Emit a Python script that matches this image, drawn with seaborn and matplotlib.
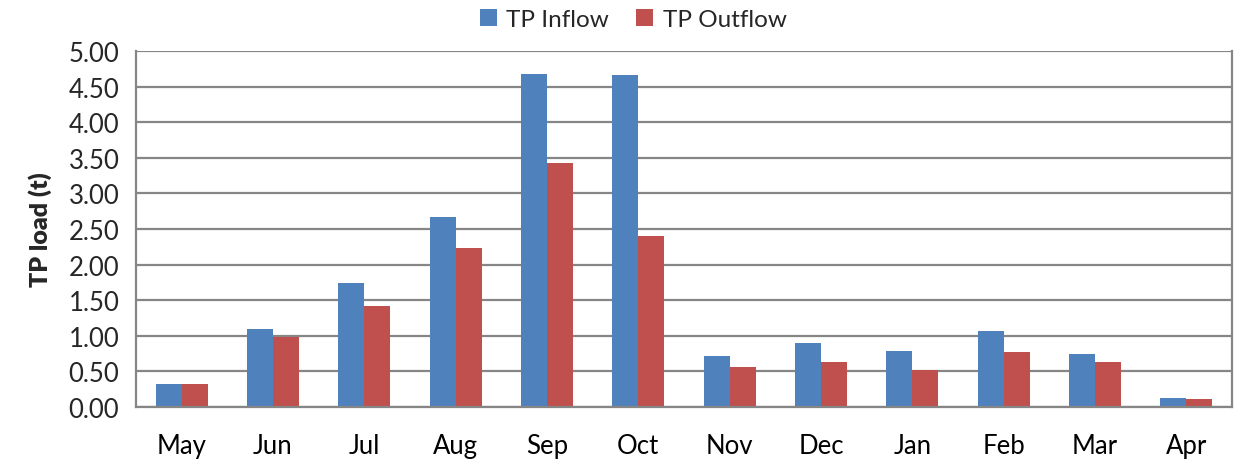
import pandas as pd
import numpy as np
import matplotlib
matplotlib.use("Agg")
import matplotlib.pyplot as plt
import seaborn as sns

months = ["May", "Jun", "Jul", "Aug", "Sep", "Oct", "Nov", "Dec", "Jan", "Feb", "Mar", "Apr"]
tp_inflow = [0.32, 1.09, 1.74, 2.67, 4.68, 4.66, 0.71, 0.90, 0.79, 1.07, 0.75, 0.13]
tp_outflow = [0.32, 0.99, 1.42, 2.23, 3.42, 2.40, 0.56, 0.63, 0.52, 0.77, 0.63, 0.11]
series = ["TP Inflow", "TP Outflow"]
colors = ["#4F81BD", "#C0504D"]

df = pd.DataFrame({
    "Month": months * 2,
    "Load": tp_inflow + tp_outflow,
    "Series": [series[0]] * len(months) + [series[1]] * len(months),
})

sns.set_style("white")
plt.rcParams["font.family"] = ["Lato", "DejaVu Sans"]

grid_c = "#868686"

fig = plt.figure(figsize=(12.38, 4.6), dpi=100)
ax = fig.add_axes([136 / 1238, 1 - 408 / 460, (1232 - 136) / 1238, (408 - 52) / 460])

sns.barplot(data=df, x="Month", y="Load", hue="Series", order=months,
            hue_order=series, palette=colors, width=0.57, gap=0,
            saturation=1, linewidth=0, ax=ax, legend=True)

ax.set_ylim(0, 5)
ax.set_xlim(-0.5, len(months) - 0.5)
ax.set_yticks(np.arange(0, 5.01, 0.5))
ax.set_yticklabels([f"{v:.2f}" for v in np.arange(0, 5.01, 0.5)])
ax.yaxis.grid(True, color=grid_c, linewidth=1.6)
ax.set_axisbelow(True)

for side in ["left", "right", "bottom"]:
    ax.spines[side].set_color(grid_c)
    ax.spines[side].set_linewidth(1.6)
ax.spines["top"].set_visible(False)

ax.set_xticks(np.arange(-0.5, len(months), 1), minor=True)
ax.tick_params(axis="x", which="major", length=0, labelsize=18.5, pad=19, colors="black")
ax.tick_params(axis="x", which="minor", length=8, width=1.6, color=grid_c)
ax.tick_params(axis="y", length=8, width=1.6, color=grid_c, labelsize=18.5, pad=4)

ax.set_xlabel("")
ax.set_ylabel("TP load (t)", fontsize=18, fontweight="heavy", labelpad=12)

handles, labels = ax.get_legend_handles_labels()
ax.get_legend().remove()
fig.legend(handles, labels, loc="upper center", bbox_to_anchor=(633 / 1238, 1.025),
           ncol=2, frameon=False, fontsize=17.5, handlelength=0.7, handleheight=0.7,
           handletextpad=0.4, columnspacing=1.1)

fig.savefig("out.png", dpi=100)
